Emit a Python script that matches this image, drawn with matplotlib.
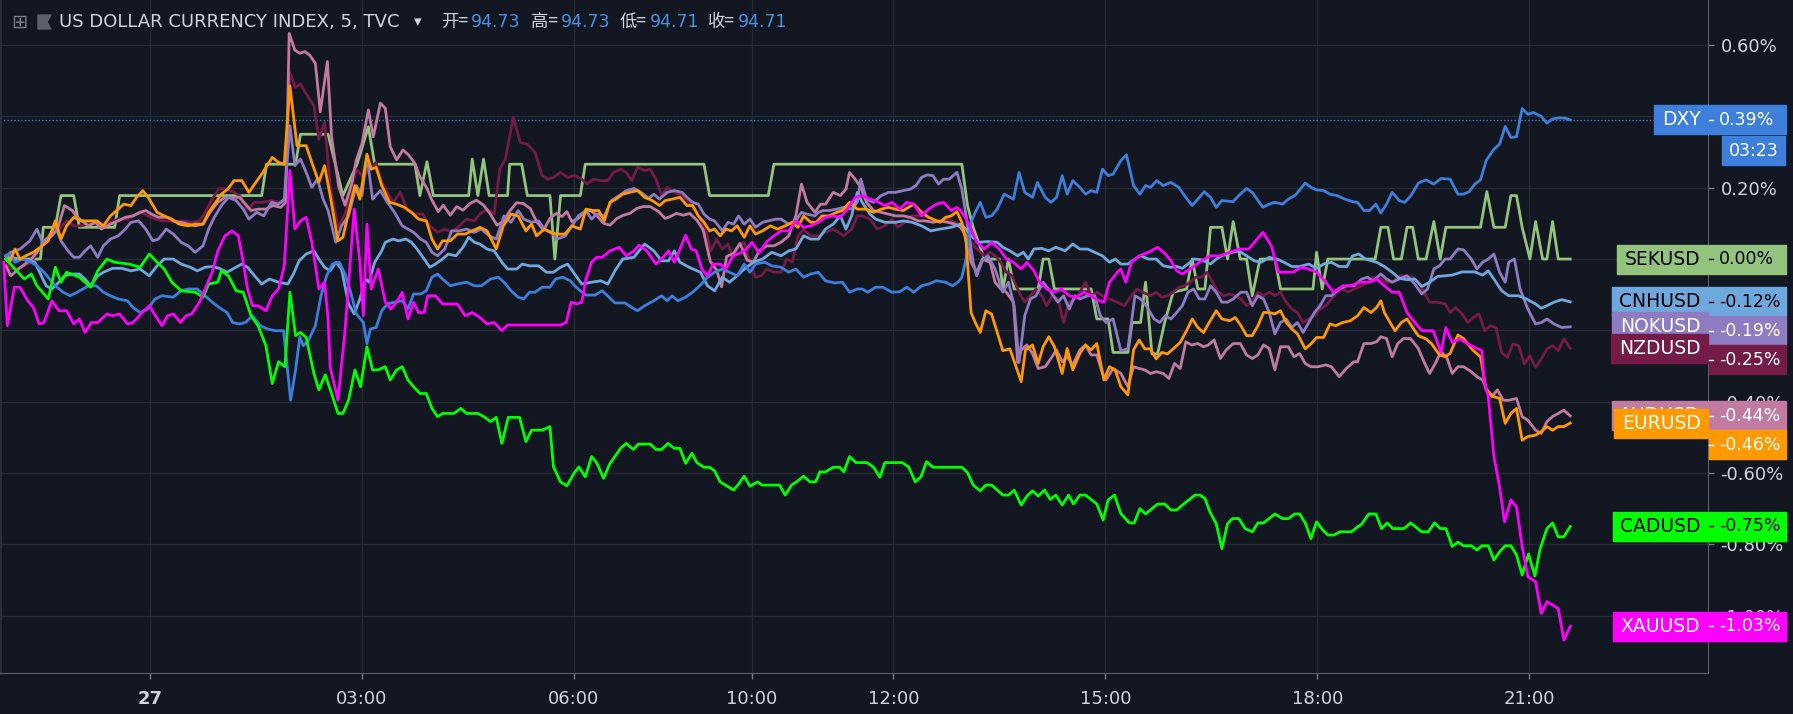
import matplotlib
matplotlib.use('Agg')
import numpy as np
import matplotlib.pyplot as plt
from matplotlib.patches import Rectangle, Polygon
from matplotlib.transforms import IdentityTransform
from matplotlib.ticker import FuncFormatter

# x = hours after 27th 00:00 on the (gap-compressed) session axis, y = % change
dxy = [(-2.04,0.009),(-1.99,0.014),(-1.91,-0.009),(-1.81,0.0),(-1.68,-0.009),(-1.60,-0.019),(-1.50,-0.037),(-1.42,-0.056),(-1.34,-0.075),(-1.23,-0.093),(-1.13,-0.103),(-1.03,-0.093),(-0.95,-0.084),(-0.87,-0.075),(-0.76,-0.075),(-0.66,-0.093),(-0.56,-0.103),(-0.45,-0.112),(-0.32,-0.117),(-0.24,-0.136),(-0.14,-0.150),(-0.03,-0.140),(0.07,-0.112),(0.17,-0.103),(0.33,-0.107),(0.44,-0.089),(0.54,-0.084),(0.67,-0.084),(0.78,-0.103),(0.88,-0.121),(0.98,-0.136),(1.09,-0.150),(1.17,-0.178),(1.27,-0.182),(1.35,-0.178),(1.45,-0.159),(1.56,-0.187),(1.66,-0.196),(1.77,-0.201),(1.89,-0.201),(1.99,-0.396),(2.06,-0.311),(2.12,-0.219),(2.17,-0.243),(2.24,-0.229),(2.34,-0.187),(2.42,-0.103),(2.50,-0.047),(2.58,-0.014),(2.68,-0.009),(2.76,-0.042),(2.84,-0.093),(2.92,-0.154),(3.02,-0.178),(3.07,-0.237),(3.12,-0.196),(3.20,-0.192),(3.28,-0.145),(3.36,-0.126),(3.46,-0.121),(3.57,-0.117),(3.65,-0.140),(3.73,-0.098),(3.83,-0.098),(3.91,-0.089),(3.99,-0.051),(4.07,-0.042),(4.14,-0.056),(4.25,-0.075),(4.35,-0.070),(4.48,-0.065),(4.59,-0.075),(4.69,-0.075),(4.82,-0.056),(4.93,-0.051),(5.01,-0.065),(5.11,-0.089),(5.21,-0.107),(5.29,-0.112),(5.37,-0.093),(5.45,-0.093),(5.55,-0.079),(5.66,-0.079),(5.74,-0.056),(5.84,-0.051),(5.95,-0.061),(6.01,-0.075),(6.09,-0.089),(6.17,-0.101),(6.30,-0.101),(6.40,-0.089),(6.51,-0.110),(6.58,-0.123),(6.72,-0.123),(6.82,-0.136),(6.90,-0.145),(7.00,-0.131),(7.13,-0.117),(7.24,-0.103),(7.32,-0.117),(7.39,-0.103),(7.47,-0.117),(7.58,-0.107),(7.68,-0.093),(7.79,-0.073),(7.89,-0.051),(7.99,-0.037),(8.10,-0.028),(8.20,-0.037),(8.31,-0.047),(8.41,-0.014),(8.49,-0.037),(8.57,-0.014),(8.70,-0.009),(8.80,-0.019),(8.93,-0.023),(9.04,-0.037),(9.14,-0.028),(9.25,-0.051),(9.35,-0.042),(9.46,-0.037),(9.56,-0.061),(9.69,-0.067),(9.80,-0.065),(9.90,-0.093),(10.01,-0.084),(10.08,-0.084),(10.16,-0.093),(10.27,-0.079),(10.37,-0.079),(10.50,-0.093),(10.61,-0.092),(10.71,-0.079),(10.81,-0.093),(10.92,-0.075),(11.02,-0.070),(11.13,-0.061),(11.26,-0.065),(11.36,-0.075),(11.44,-0.064),(11.49,-0.051),(11.55,0.0),(11.62,0.103),(11.68,0.131),(11.75,0.159),(11.83,0.117),(11.91,0.121),(11.99,0.140),(12.09,0.182),(12.22,0.168),(12.30,0.243),(12.38,0.187),(12.49,0.173),(12.56,0.215),(12.67,0.173),(12.75,0.159),(12.83,0.173),(12.91,0.234),(12.98,0.182),(13.06,0.220),(13.16,0.201),(13.24,0.182),(13.32,0.192),(13.40,0.187),(13.48,0.252),(13.56,0.234),(13.63,0.238),(13.74,0.276),(13.82,0.292),(13.92,0.206),(14.01,0.182),(14.09,0.206),(14.16,0.201),(14.25,0.220),(14.34,0.206),(14.45,0.215),(14.56,0.201),(14.64,0.178),(14.75,0.150),(14.83,0.168),(14.92,0.189),(15.01,0.173),(15.09,0.145),(15.17,0.164),(15.33,0.161),(15.41,0.178),(15.52,0.198),(15.60,0.187),(15.75,0.145),(15.84,0.154),(15.92,0.159),(16.03,0.154),(16.11,0.168),(16.21,0.179),(16.35,0.213),(16.43,0.201),(16.51,0.194),(16.61,0.192),(16.70,0.182),(16.80,0.178),(16.91,0.168),(17.02,0.161),(17.09,0.159),(17.18,0.136),(17.26,0.136),(17.35,0.154),(17.42,0.129),(17.50,0.154),(17.58,0.187),(17.68,0.164),(17.76,0.159),(17.85,0.179),(17.95,0.213),(18.06,0.222),(18.17,0.210),(18.27,0.226),(18.40,0.224),(18.51,0.182),(18.59,0.182),(18.67,0.189),(18.75,0.210),(18.83,0.222),(18.91,0.276),(19.02,0.308),(19.10,0.322),(19.18,0.372),(19.26,0.341),(19.34,0.343),(19.42,0.422),(19.50,0.406),(19.58,0.411),(19.69,0.400),(19.77,0.381),(19.85,0.393),(19.95,0.396),(20.03,0.395),(20.10,0.39)]

sek = [(-2.04,0.0),(-1.55,0.0),(-1.51,0.089),(-1.34,0.089),(-1.26,0.178),(-1.08,0.178),(-1.00,0.089),(-0.50,0.089),(-0.43,0.178),(1.58,0.178),(1.65,0.266),(2.06,0.266),(2.13,0.350),(2.52,0.350),(2.73,0.178),(2.93,0.266),(3.09,0.371),(3.18,0.266),(3.75,0.266),(3.82,0.178),(3.92,0.273),(4.01,0.178),(4.51,0.178),(4.56,0.280),(4.64,0.178),(4.72,0.280),(4.80,0.178),(5.06,0.178),(5.09,0.266),(5.26,0.266),(5.34,0.178),(5.66,0.178),(5.73,0.0),(5.81,0.178),(6.09,0.178),(6.16,0.266),(7.84,0.266),(7.92,0.178),(8.75,0.178),(8.83,0.266),(11.49,0.266),(11.57,0.150),(11.65,0.089),(11.81,0.0),(12.02,0.0),(12.07,-0.084),(12.15,0.0),(12.23,-0.084),(12.57,-0.084),(12.64,0.0),(12.72,0.0),(12.80,-0.084),(13.32,-0.084),(13.40,-0.168),(13.56,-0.168),(13.63,-0.262),(13.84,-0.262),(13.90,-0.178),(14.02,-0.178),(14.09,-0.065),(14.18,-0.266),(14.26,-0.266),(14.36,-0.178),(14.48,-0.093),(14.67,-0.084),(14.75,0.0),(14.83,-0.084),(14.93,-0.084),(15.01,0.089),(15.17,0.089),(15.25,0.0),(15.33,0.105),(15.43,0.0),(15.52,0.0),(15.60,-0.103),(15.71,0.0),(15.92,0.0),(16.00,-0.084),(16.46,-0.084),(16.51,0.019),(16.59,-0.084),(16.67,0.0),(17.34,0.0),(17.42,0.089),(17.52,0.089),(17.60,0.0),(17.71,0.0),(17.79,0.089),(17.87,0.089),(17.95,0.0),(18.06,0.0),(18.17,0.105),(18.26,0.0),(18.34,0.089),(18.83,0.089),(18.92,0.189),(19.02,0.089),(19.18,0.089),(19.26,0.178),(19.34,0.178),(19.42,0.089),(19.53,0.0),(19.61,0.105),(19.71,0.0),(19.77,0.0),(19.85,0.105),(19.93,0.0),(20.10,0.0)]

cnh = [(-2.04,0.009),(-1.86,0.0),(-1.76,0.0),(-1.63,-0.009),(-1.55,-0.042),(-1.47,-0.075),(-1.39,-0.084),(-1.29,-0.065),(-1.21,-0.047),(-1.10,-0.042),(-1.00,-0.042),(-0.92,-0.056),(-0.84,-0.075),(-0.74,-0.047),(-0.66,-0.037),(-0.53,-0.026),(-0.40,-0.026),(-0.27,-0.033),(-0.14,-0.028),(-0.01,-0.047),(0.10,-0.019),(0.20,0.0),(0.33,0.0),(0.44,-0.014),(0.57,-0.023),(0.67,-0.033),(0.78,-0.023),(0.88,-0.021),(0.98,-0.026),(1.09,-0.037),(1.19,-0.026),(1.30,-0.014),(1.38,-0.023),(1.48,-0.047),(1.58,-0.070),(1.69,-0.056),(1.82,-0.065),(1.95,-0.070),(2.03,-0.042),(2.11,-0.005),(2.21,0.014),(2.32,0.023),(2.39,0.0),(2.47,-0.023),(2.55,-0.033),(2.63,-0.009),(2.71,-0.028),(2.81,-0.126),(2.89,-0.154),(2.97,-0.112),(3.05,-0.056),(3.10,-0.065),(3.18,-0.009),(3.28,0.023),(3.33,0.047),(3.44,0.056),(3.52,0.051),(3.62,0.056),(3.70,0.047),(3.78,0.028),(3.88,0.0),(3.96,-0.023),(4.04,-0.014),(4.14,0.0),(4.22,0.014),(4.33,0.009),(4.43,0.033),(4.51,0.061),(4.59,0.047),(4.67,0.042),(4.77,0.028),(4.87,0.023),(4.98,-0.009),(5.06,-0.028),(5.19,-0.028),(5.27,-0.014),(5.37,-0.019),(5.50,-0.019),(5.61,-0.037),(5.71,-0.037),(5.81,-0.023),(5.91,-0.014),(6.01,-0.042),(6.11,-0.070),(6.25,-0.065),(6.38,-0.061),(6.48,-0.070),(6.58,-0.033),(6.69,0.0),(6.85,0.005),(7.00,0.042),(7.13,0.023),(7.24,-0.005),(7.34,-0.005),(7.42,0.023),(7.50,-0.009),(7.63,-0.023),(7.79,-0.037),(7.89,-0.075),(7.99,-0.089),(8.10,-0.051),(8.20,-0.065),(8.31,-0.047),(8.41,-0.028),(8.54,-0.009),(8.67,0.0),(8.80,0.019),(8.93,0.009),(9.04,0.023),(9.14,0.028),(9.25,0.065),(9.35,0.056),(9.46,0.056),(9.56,0.084),(9.67,0.098),(9.77,0.121),(9.85,0.084),(9.93,0.121),(10.01,0.187),(10.08,0.159),(10.19,0.126),(10.27,0.112),(10.40,0.103),(10.55,0.103),(10.66,0.107),(10.79,0.103),(10.92,0.093),(11.05,0.079),(11.18,0.084),(11.34,0.089),(11.47,0.098),(11.55,0.084),(11.62,0.065),(11.73,0.047),(11.86,0.049),(11.99,0.047),(12.07,0.033),(12.17,0.023),(12.28,0.009),(12.36,0.019),(12.43,0.0),(12.51,0.028),(12.62,0.030),(12.72,0.023),(12.82,0.033),(12.95,0.023),(13.06,0.042),(13.16,0.028),(13.27,0.028),(13.37,0.019),(13.48,0.009),(13.58,-0.009),(13.66,0.0),(13.74,-0.014),(13.84,-0.014),(13.94,0.0),(14.02,0.009),(14.13,0.0),(14.24,0.0),(14.34,-0.019),(14.45,-0.023),(14.53,-0.021),(14.61,-0.026),(14.69,-0.014),(14.77,0.0),(14.88,-0.002),(15.01,-0.014),(15.09,0.0),(15.17,0.009),(15.28,0.017),(15.41,0.023),(15.52,0.009),(15.63,-0.005),(15.73,-0.009),(15.84,0.005),(15.95,0.0),(16.05,-0.009),(16.16,-0.021),(16.27,-0.021),(16.40,-0.014),(16.51,-0.026),(16.61,-0.014),(16.72,-0.009),(16.83,-0.021),(16.94,-0.021),(17.02,0.009),(17.11,0.014),(17.20,0.0),(17.36,-0.009),(17.47,-0.021),(17.58,-0.037),(17.68,-0.054),(17.79,-0.058),(17.90,-0.056),(18.00,-0.077),(18.11,-0.065),(18.22,-0.049),(18.32,-0.047),(18.43,-0.045),(18.57,-0.036),(18.75,-0.036),(18.86,-0.045),(18.94,-0.033),(19.02,-0.056),(19.13,-0.089),(19.23,-0.103),(19.37,-0.103),(19.48,-0.112),(19.61,-0.126),(19.69,-0.138),(19.77,-0.131),(19.87,-0.121),(19.98,-0.114),(20.10,-0.12)]

nok = [(-2.04,0.009),(-1.97,0.019),(-1.84,0.028),(-1.70,0.051),(-1.60,0.084),(-1.52,0.047),(-1.44,0.061),(-1.34,0.093),(-1.26,0.051),(-1.16,0.023),(-1.08,0.005),(-1.00,0.005),(-0.92,0.023),(-0.84,0.037),(-0.74,0.005),(-0.66,0.037),(-0.56,0.056),(-0.45,0.065),(-0.35,0.084),(-0.27,0.103),(-0.16,0.107),(-0.06,0.084),(0.04,0.051),(0.12,0.056),(0.23,0.084),(0.33,0.070),(0.44,0.047),(0.54,0.037),(0.64,0.019),(0.75,0.037),(0.83,0.084),(0.91,0.117),(1.01,0.150),(1.11,0.173),(1.22,0.164),(1.32,0.140),(1.40,0.112),(1.51,0.131),(1.61,0.121),(1.72,0.159),(1.82,0.154),(1.90,0.168),(1.98,0.374),(2.05,0.262),(2.13,0.280),(2.21,0.243),(2.29,0.201),(2.37,0.224),(2.45,0.168),(2.52,0.136),(2.63,0.047),(2.71,0.093),(2.81,0.121),(2.92,0.206),(3.00,0.178),(3.07,0.290),(3.15,0.168),(3.26,0.192),(3.36,0.159),(3.46,0.131),(3.57,0.093),(3.65,0.084),(3.73,0.075),(3.83,0.056),(3.91,0.047),(3.99,0.019),(4.07,0.009),(4.17,0.028),(4.27,0.079),(4.38,0.079),(4.48,0.084),(4.59,0.075),(4.69,0.084),(4.80,0.065),(4.90,0.056),(5.01,0.121),(5.11,0.103),(5.21,0.136),(5.29,0.112),(5.40,0.103),(5.50,0.107),(5.58,0.084),(5.68,0.075),(5.76,0.056),(5.88,0.065),(5.99,0.098),(6.06,0.121),(6.17,0.136),(6.25,0.112),(6.32,0.126),(6.43,0.121),(6.53,0.164),(6.64,0.178),(6.74,0.192),(6.85,0.198),(6.95,0.187),(7.06,0.170),(7.13,0.182),(7.21,0.168),(7.32,0.187),(7.42,0.192),(7.53,0.187),(7.60,0.173),(7.68,0.159),(7.76,0.154),(7.84,0.126),(7.92,0.112),(7.99,0.107),(8.10,0.079),(8.18,0.103),(8.26,0.098),(8.33,0.121),(8.41,0.098),(8.49,0.112),(8.57,0.089),(8.67,0.103),(8.75,0.107),(8.86,0.112),(8.93,0.112),(9.04,0.098),(9.14,0.107),(9.22,0.131),(9.30,0.126),(9.41,0.121),(9.46,0.131),(9.53,0.136),(9.61,0.136),(9.72,0.140),(9.82,0.145),(9.93,0.140),(10.01,0.159),(10.06,0.224),(10.14,0.168),(10.24,0.159),(10.35,0.178),(10.45,0.187),(10.55,0.187),(10.66,0.192),(10.76,0.196),(10.84,0.206),(10.92,0.229),(11.00,0.236),(11.08,0.234),(11.16,0.210),(11.23,0.224),(11.31,0.224),(11.42,0.243),(11.49,0.196),(11.55,0.121),(11.65,-0.009),(11.70,-0.047),(11.78,-0.005),(11.86,0.009),(11.96,-0.028),(12.07,-0.093),(12.15,-0.065),(12.23,-0.131),(12.30,-0.290),(12.38,-0.159),(12.46,-0.112),(12.54,-0.103),(12.64,-0.065),(12.75,-0.093),(12.85,-0.121),(12.93,-0.103),(13.01,-0.140),(13.09,-0.103),(13.16,-0.112),(13.27,-0.103),(13.37,-0.103),(13.45,-0.159),(13.53,-0.178),(13.63,-0.168),(13.74,-0.257),(13.84,-0.252),(13.94,-0.103),(14.02,-0.112),(14.10,-0.131),(14.21,-0.168),(14.29,-0.178),(14.37,-0.159),(14.45,-0.168),(14.53,-0.150),(14.61,-0.131),(14.69,-0.093),(14.77,-0.084),(14.85,-0.112),(14.93,-0.112),(15.01,-0.075),(15.09,-0.093),(15.17,-0.121),(15.25,-0.121),(15.33,-0.112),(15.44,-0.093),(15.52,-0.093),(15.60,-0.131),(15.68,-0.103),(15.76,-0.112),(15.84,-0.150),(15.92,-0.210),(16.00,-0.178),(16.08,-0.168),(16.16,-0.192),(16.24,-0.178),(16.32,-0.206),(16.40,-0.178),(16.48,-0.150),(16.56,-0.131),(16.64,-0.103),(16.72,-0.103),(16.83,-0.084),(16.94,-0.075),(17.04,-0.075),(17.15,-0.056),(17.23,-0.051),(17.31,-0.061),(17.42,-0.042),(17.50,-0.056),(17.58,-0.065),(17.68,-0.056),(17.79,-0.047),(17.90,-0.070),(18.00,-0.098),(18.08,-0.084),(18.17,-0.028),(18.25,-0.019),(18.33,0.0),(18.40,0.0),(18.51,0.028),(18.59,0.026),(18.70,0.0),(18.78,-0.028),(18.86,-0.009),(18.94,0.0),(19.02,0.014),(19.10,-0.037),(19.18,-0.065),(19.23,-0.009),(19.31,0.0),(19.39,-0.084),(19.50,-0.140),(19.61,-0.182),(19.69,-0.178),(19.77,-0.168),(19.87,-0.182),(19.98,-0.192),(20.10,-0.19)]

nzd = [(-2.04,0.0),(-1.99,-0.028),(-1.89,-0.028),(-1.78,-0.019),(-1.68,-0.009),(-1.57,0.028),(-1.47,0.056),(-1.39,0.070),(-1.29,0.084),(-1.18,0.107),(-1.08,0.093),(-0.97,0.093),(-0.87,0.098),(-0.76,0.103),(-0.66,0.093),(-0.56,0.103),(-0.45,0.112),(-0.32,0.112),(-0.24,0.121),(-0.14,0.133),(-0.03,0.121),(0.07,0.112),(0.17,0.107),(0.28,0.107),(0.38,0.103),(0.49,0.107),(0.59,0.103),(0.70,0.107),(0.78,0.131),(0.88,0.168),(0.98,0.198),(1.09,0.196),(1.19,0.187),(1.27,0.178),(1.38,0.140),(1.48,0.159),(1.58,0.159),(1.72,0.164),(1.82,0.159),(1.90,0.159),(1.98,0.523),(2.06,0.481),(2.13,0.491),(2.21,0.463),(2.32,0.430),(2.39,0.336),(2.47,0.383),(2.55,0.206),(2.66,0.089),(2.76,0.126),(2.84,0.187),(2.92,0.252),(3.02,0.229),(3.10,0.252),(3.20,0.271),(3.28,0.215),(3.36,0.187),(3.44,0.159),(3.54,0.187),(3.65,0.136),(3.75,0.126),(3.86,0.126),(3.96,0.093),(4.07,0.075),(4.17,0.084),(4.27,0.075),(4.38,0.093),(4.48,0.112),(4.59,0.107),(4.67,0.126),(4.77,0.140),(4.87,0.126),(4.95,0.252),(5.03,0.280),(5.14,0.397),(5.24,0.327),(5.34,0.322),(5.45,0.299),(5.55,0.234),(5.63,0.224),(5.71,0.229),(5.81,0.243),(5.91,0.229),(6.01,0.234),(6.11,0.224),(6.19,0.210),(6.27,0.224),(6.38,0.220),(6.48,0.220),(6.56,0.243),(6.66,0.252),(6.74,0.243),(6.82,0.220),(6.90,0.257),(7.00,0.248),(7.08,0.252),(7.16,0.224),(7.24,0.178),(7.32,0.201),(7.42,0.187),(7.53,0.178),(7.63,0.159),(7.71,0.140),(7.79,0.112),(7.87,0.075),(7.94,0.023),(8.02,0.056),(8.10,0.028),(8.18,0.042),(8.25,0.005),(8.33,0.037),(8.41,0.047),(8.49,-0.009),(8.57,-0.051),(8.65,-0.047),(8.73,-0.028),(8.83,-0.037),(8.93,-0.037),(9.01,0.0),(9.09,-0.009),(9.17,0.065),(9.25,0.084),(9.35,0.065),(9.46,0.065),(9.56,0.075),(9.67,0.084),(9.74,0.075),(9.82,0.065),(9.93,0.084),(10.01,0.121),(10.08,0.121),(10.19,0.112),(10.29,0.084),(10.40,0.093),(10.50,0.112),(10.58,0.089),(10.68,0.103),(10.79,0.121),(10.87,0.121),(10.97,0.121),(11.08,0.112),(11.18,0.107),(11.29,0.112),(11.39,0.103),(11.47,0.098),(11.55,0.075),(11.62,0.047),(11.70,0.028),(11.81,0.009),(11.89,0.019),(11.96,0.009),(12.04,-0.009),(12.12,-0.037),(12.20,-0.047),(12.30,-0.093),(12.38,-0.121),(12.46,-0.103),(12.54,-0.084),(12.62,-0.103),(12.69,-0.131),(12.77,-0.103),(12.85,-0.112),(12.93,-0.178),(13.01,-0.121),(13.09,-0.112),(13.16,-0.093),(13.24,-0.065),(13.32,-0.103),(13.40,-0.093),(13.48,-0.103),(13.58,-0.112),(13.69,-0.121),(13.79,-0.131),(13.89,-0.103),(13.97,-0.084),(14.05,-0.093),(14.16,-0.103),(14.24,-0.093),(14.32,-0.107),(14.40,-0.103),(14.48,-0.093),(14.56,-0.079),(14.64,-0.075),(14.72,-0.065),(14.80,-0.051),(14.88,-0.051),(14.96,-0.037),(15.04,-0.065),(15.12,-0.093),(15.20,-0.103),(15.28,-0.098),(15.36,-0.103),(15.44,-0.112),(15.52,-0.131),(15.60,-0.117),(15.68,-0.093),(15.76,-0.103),(15.84,-0.093),(15.92,-0.103),(16.00,-0.093),(16.08,-0.121),(16.16,-0.140),(16.24,-0.150),(16.32,-0.178),(16.40,-0.168),(16.48,-0.159),(16.56,-0.140),(16.64,-0.131),(16.72,-0.112),(16.80,-0.093),(16.88,-0.084),(16.96,-0.093),(17.04,-0.084),(17.15,-0.075),(17.23,-0.065),(17.31,-0.051),(17.42,-0.056),(17.50,-0.065),(17.58,-0.065),(17.68,-0.047),(17.79,-0.047),(17.87,-0.051),(17.95,-0.065),(18.03,-0.093),(18.11,-0.121),(18.22,-0.121),(18.33,-0.126),(18.40,-0.150),(18.48,-0.136),(18.57,-0.154),(18.65,-0.178),(18.73,-0.164),(18.81,-0.154),(18.89,-0.201),(18.97,-0.187),(19.05,-0.192),(19.13,-0.262),(19.21,-0.276),(19.29,-0.238),(19.37,-0.243),(19.45,-0.294),(19.53,-0.271),(19.61,-0.304),(19.69,-0.280),(19.77,-0.252),(19.85,-0.243),(19.93,-0.257),(20.01,-0.224),(20.10,-0.25)]

aud = [(-2.04,-0.019),(-1.97,-0.047),(-1.86,-0.028),(-1.68,0.0),(-1.60,0.019),(-1.50,0.047),(-1.39,0.065),(-1.31,0.084),(-1.21,0.150),(-1.10,0.136),(-1.03,0.117),(-0.87,0.093),(-0.77,0.103),(-0.69,0.084),(-0.56,0.098),(-0.45,0.107),(-0.35,0.117),(-0.24,0.121),(-0.14,0.131),(-0.06,0.136),(0.02,0.126),(0.12,0.117),(0.25,0.117),(0.33,0.107),(0.44,0.103),(0.54,0.098),(0.64,0.093),(0.75,0.098),(0.85,0.131),(0.96,0.159),(1.06,0.173),(1.17,0.173),(1.27,0.173),(1.35,0.154),(1.43,0.136),(1.53,0.140),(1.64,0.140),(1.74,0.150),(1.85,0.145),(1.92,0.159),(1.97,0.633),(2.05,0.586),(2.12,0.577),(2.19,0.582),(2.26,0.572),(2.34,0.549),(2.41,0.413),(2.51,0.554),(2.57,0.343),(2.67,0.203),(2.76,0.151),(2.85,0.208),(2.92,0.278),(3.00,0.324),(3.09,0.418),(3.16,0.343),(3.26,0.437),(3.33,0.423),(3.40,0.315),(3.49,0.278),(3.58,0.306),(3.66,0.292),(3.75,0.268),(3.82,0.231),(3.92,0.198),(3.99,0.165),(4.08,0.133),(4.15,0.151),(4.25,0.123),(4.34,0.147),(4.43,0.137),(4.53,0.156),(4.62,0.165),(4.72,0.151),(4.81,0.128),(4.91,0.095),(5.00,0.105),(5.10,0.137),(5.19,0.158),(5.28,0.156),(5.38,0.142),(5.47,0.105),(5.57,0.081),(5.66,0.114),(5.75,0.128),(5.83,0.119),(5.90,0.133),(5.97,0.105),(6.06,0.114),(6.13,0.128),(6.23,0.137),(6.32,0.123),(6.42,0.100),(6.51,0.095),(6.61,0.114),(6.70,0.123),(6.79,0.128),(6.89,0.142),(6.98,0.147),(7.08,0.147),(7.20,0.133),(7.29,0.114),(7.36,0.119),(7.45,0.128),(7.55,0.123),(7.64,0.128),(7.74,0.109),(7.83,0.081),(7.93,-0.007),(8.02,-0.031),(8.09,-0.078),(8.16,0.007),(8.26,0.016),(8.35,0.044),(8.45,-0.003),(8.54,-0.009),(8.62,0.023),(8.73,0.037),(8.83,0.037),(8.93,0.047),(9.04,0.065),(9.14,0.121),(9.22,0.210),(9.30,0.159),(9.41,0.131),(9.49,0.154),(9.56,0.154),(9.67,0.187),(9.77,0.178),(9.85,0.196),(9.90,0.243),(9.98,0.224),(10.06,0.201),(10.14,0.159),(10.24,0.136),(10.35,0.131),(10.45,0.126),(10.55,0.121),(10.66,0.121),(10.76,0.117),(10.87,0.107),(10.97,0.107),(11.08,0.103),(11.18,0.107),(11.29,0.103),(11.39,0.098),(11.47,0.089),(11.55,0.065),(11.62,-0.009),(11.70,-0.037),(11.78,0.0),(11.89,-0.009),(11.96,-0.065),(12.04,-0.084),(12.12,-0.093),(12.22,-0.121),(12.28,-0.290),(12.33,-0.255),(12.41,-0.241),(12.49,-0.265),(12.57,-0.307),(12.67,-0.302),(12.75,-0.279),(12.83,-0.255),(12.91,-0.288),(12.98,-0.274),(13.06,-0.297),(13.16,-0.255),(13.24,-0.241),(13.32,-0.269),(13.40,-0.269),(13.48,-0.321),(13.53,-0.339),(13.63,-0.307),(13.74,-0.321),(13.84,-0.358),(13.92,-0.302),(14.00,-0.307),(14.08,-0.311),(14.16,-0.321),(14.24,-0.316),(14.34,-0.321),(14.42,-0.335),(14.50,-0.293),(14.58,-0.307),(14.66,-0.232),(14.74,-0.241),(14.83,-0.237),(14.91,-0.246),(14.98,-0.241),(15.06,-0.227),(15.15,-0.279),(15.23,-0.255),(15.33,-0.237),(15.43,-0.237),(15.52,-0.269),(15.60,-0.279),(15.68,-0.269),(15.76,-0.241),(15.84,-0.251),(15.92,-0.311),(16.00,-0.246),(16.11,-0.246),(16.19,-0.274),(16.27,-0.265),(16.35,-0.293),(16.43,-0.302),(16.53,-0.302),(16.64,-0.297),(16.72,-0.302),(16.83,-0.330),(16.93,-0.307),(17.04,-0.288),(17.09,-0.288),(17.18,-0.237),(17.28,-0.237),(17.36,-0.232),(17.42,-0.218),(17.50,-0.223),(17.58,-0.274),(17.66,-0.237),(17.74,-0.223),(17.84,-0.223),(17.95,-0.251),(18.03,-0.288),(18.11,-0.321),(18.19,-0.293),(18.27,-0.260),(18.35,-0.274),(18.43,-0.321),(18.51,-0.302),(18.59,-0.302),(18.70,-0.316),(18.78,-0.330),(18.86,-0.339),(18.91,-0.363),(18.99,-0.386),(19.07,-0.367),(19.15,-0.396),(19.23,-0.396),(19.34,-0.391),(19.42,-0.442),(19.50,-0.452),(19.61,-0.480),(19.69,-0.489),(19.77,-0.456),(19.85,-0.442),(19.93,-0.433),(20.01,-0.424),(20.10,-0.44)]

eur = [(-2.04,0.0),(-1.99,-0.009),(-1.91,0.028),(-1.84,0.0),(-1.76,0.009),(-1.65,0.019),(-1.55,0.033),(-1.44,0.051),(-1.34,0.107),(-1.26,0.056),(-1.18,0.093),(-1.08,0.117),(-0.97,0.107),(-0.87,0.107),(-0.75,0.107),(-0.66,0.093),(-0.56,0.121),(-0.45,0.140),(-0.37,0.154),(-0.27,0.150),(-0.19,0.173),(-0.10,0.192),(-0.01,0.168),(0.10,0.131),(0.20,0.121),(0.31,0.112),(0.41,0.098),(0.54,0.093),(0.64,0.098),(0.75,0.098),(0.83,0.131),(0.93,0.159),(1.01,0.182),(1.10,0.196),(1.19,0.220),(1.30,0.220),(1.40,0.187),(1.48,0.210),(1.58,0.238),(1.73,0.285),(1.82,0.271),(1.90,0.266),(1.98,0.486),(2.08,0.318),(2.21,0.318),(2.29,0.271),(2.39,0.215),(2.47,0.262),(2.55,0.178),(2.66,0.051),(2.73,0.061),(2.81,0.131),(2.90,0.206),(2.97,0.168),(3.07,0.294),(3.13,0.252),(3.20,0.257),(3.28,0.206),(3.39,0.159),(3.49,0.154),(3.60,0.145),(3.70,0.131),(3.80,0.112),(3.91,0.107),(3.99,0.056),(4.07,0.028),(4.14,0.051),(4.25,0.051),(4.35,0.070),(4.46,0.070),(4.56,0.079),(4.67,0.089),(4.77,0.079),(4.90,0.028),(5.00,0.093),(5.11,0.126),(5.21,0.121),(5.32,0.079),(5.40,0.098),(5.47,0.065),(5.58,0.084),(5.66,0.075),(5.76,0.070),(5.87,0.070),(5.97,0.093),(6.09,0.084),(6.17,0.140),(6.27,0.136),(6.35,0.136),(6.43,0.107),(6.51,0.159),(6.58,0.166),(6.69,0.182),(6.79,0.187),(6.90,0.192),(7.00,0.173),(7.11,0.164),(7.21,0.150),(7.29,0.164),(7.39,0.168),(7.50,0.173),(7.60,0.150),(7.68,0.150),(7.76,0.121),(7.84,0.103),(7.92,0.079),(7.99,0.084),(8.07,0.065),(8.15,0.084),(8.23,0.079),(8.31,0.093),(8.41,0.061),(8.49,0.093),(8.57,0.070),(8.67,0.079),(8.78,0.093),(8.88,0.084),(8.99,0.093),(9.09,0.103),(9.17,0.089),(9.25,0.121),(9.35,0.103),(9.43,0.103),(9.51,0.121),(9.61,0.121),(9.72,0.131),(9.80,0.136),(9.90,0.159),(10.01,0.140),(10.14,0.140),(10.24,0.131),(10.35,0.140),(10.45,0.145),(10.55,0.140),(10.66,0.136),(10.81,0.154),(10.92,0.131),(11.02,0.117),(11.18,0.103),(11.26,0.117),(11.34,0.121),(11.42,0.133),(11.49,0.103),(11.55,0.047),(11.62,-0.150),(11.68,-0.178),(11.75,-0.206),(11.83,-0.145),(11.91,-0.154),(11.99,-0.206),(12.07,-0.257),(12.17,-0.252),(12.33,-0.344),(12.39,-0.255),(12.49,-0.241),(12.57,-0.293),(12.64,-0.246),(12.72,-0.218),(12.80,-0.246),(12.91,-0.321),(12.98,-0.251),(13.06,-0.311),(13.16,-0.265),(13.24,-0.241),(13.32,-0.255),(13.40,-0.237),(13.50,-0.339),(13.58,-0.302),(13.66,-0.311),(13.74,-0.358),(13.84,-0.381),(13.92,-0.255),(14.00,-0.227),(14.08,-0.252),(14.16,-0.252),(14.24,-0.280),(14.32,-0.262),(14.40,-0.266),(14.48,-0.252),(14.58,-0.234),(14.67,-0.201),(14.75,-0.168),(14.83,-0.192),(14.91,-0.206),(14.99,-0.178),(15.09,-0.145),(15.17,-0.168),(15.28,-0.173),(15.36,-0.164),(15.44,-0.187),(15.52,-0.215),(15.60,-0.215),(15.68,-0.187),(15.76,-0.150),(15.84,-0.150),(15.92,-0.154),(16.00,-0.145),(16.08,-0.178),(16.16,-0.196),(16.24,-0.210),(16.35,-0.252),(16.43,-0.238),(16.51,-0.220),(16.61,-0.220),(16.70,-0.182),(16.78,-0.187),(16.88,-0.178),(16.99,-0.173),(17.09,-0.159),(17.18,-0.136),(17.28,-0.150),(17.36,-0.136),(17.42,-0.117),(17.47,-0.150),(17.55,-0.178),(17.62,-0.201),(17.71,-0.178),(17.79,-0.168),(17.87,-0.192),(17.95,-0.215),(18.06,-0.224),(18.14,-0.238),(18.25,-0.269),(18.33,-0.274),(18.40,-0.265),(18.51,-0.213),(18.59,-0.223),(18.72,-0.255),(18.83,-0.274),(18.91,-0.367),(19.02,-0.386),(19.10,-0.391),(19.18,-0.461),(19.26,-0.433),(19.34,-0.419),(19.42,-0.508),(19.50,-0.498),(19.61,-0.494),(19.69,-0.484),(19.77,-0.470),(19.85,-0.480),(19.93,-0.470),(20.01,-0.470),(20.10,-0.46)]

cad = [(-2.04,0.0),(-1.91,-0.028),(-1.78,-0.056),(-1.68,-0.042),(-1.60,-0.075),(-1.44,-0.112),(-1.34,-0.023),(-1.26,-0.065),(-1.18,-0.037),(-1.00,-0.051),(-0.84,-0.079),(-0.74,-0.033),(-0.61,0.0),(-0.50,-0.009),(-0.30,-0.014),(-0.14,-0.023),(-0.01,0.014),(0.10,-0.009),(0.20,-0.028),(0.31,-0.065),(0.44,-0.089),(0.64,-0.093),(0.75,-0.107),(0.83,-0.070),(0.96,-0.065),(1.01,-0.033),(1.11,-0.047),(1.22,-0.089),(1.32,-0.093),(1.43,-0.159),(1.53,-0.187),(1.64,-0.243),(1.73,-0.349),(1.82,-0.288),(1.91,-0.302),(1.98,-0.093),(2.06,-0.215),(2.13,-0.206),(2.21,-0.220),(2.32,-0.321),(2.39,-0.367),(2.48,-0.325),(2.57,-0.377),(2.66,-0.433),(2.73,-0.433),(2.81,-0.396),(2.90,-0.311),(2.98,-0.358),(3.07,-0.246),(3.15,-0.311),(3.23,-0.311),(3.33,-0.302),(3.40,-0.339),(3.49,-0.311),(3.57,-0.302),(3.65,-0.339),(3.73,-0.358),(3.82,-0.377),(3.91,-0.377),(3.99,-0.419),(4.07,-0.442),(4.14,-0.433),(4.30,-0.433),(4.40,-0.419),(4.48,-0.433),(4.64,-0.433),(4.74,-0.444),(4.82,-0.456),(4.90,-0.444),(4.98,-0.517),(5.07,-0.444),(5.23,-0.444),(5.32,-0.512),(5.40,-0.480),(5.55,-0.480),(5.66,-0.470),(5.71,-0.583),(5.81,-0.625),(5.90,-0.636),(6.00,-0.601),(6.07,-0.583),(6.16,-0.611),(6.25,-0.554),(6.32,-0.571),(6.42,-0.615),(6.51,-0.573),(6.58,-0.554),(6.66,-0.531),(6.74,-0.517),(6.84,-0.534),(6.91,-0.519),(7.08,-0.519),(7.16,-0.534),(7.24,-0.534),(7.33,-0.517),(7.42,-0.531),(7.50,-0.531),(7.58,-0.573),(7.67,-0.545),(7.74,-0.571),(7.84,-0.584),(7.92,-0.584),(7.99,-0.594),(8.07,-0.625),(8.26,-0.648),(8.33,-0.631),(8.41,-0.609),(8.49,-0.637),(8.60,-0.625),(8.66,-0.634),(8.91,-0.634),(8.99,-0.662),(9.08,-0.634),(9.17,-0.622),(9.25,-0.609),(9.34,-0.625),(9.42,-0.625),(9.48,-0.597),(9.56,-0.597),(9.67,-0.584),(9.76,-0.584),(9.82,-0.597),(9.90,-0.554),(9.99,-0.571),(10.15,-0.571),(10.24,-0.584),(10.33,-0.612),(10.40,-0.571),(10.65,-0.571),(10.74,-0.584),(10.83,-0.625),(10.91,-0.611),(10.99,-0.568),(11.08,-0.584),(11.49,-0.584),(11.57,-0.599),(11.65,-0.634),(11.75,-0.650),(11.83,-0.634),(11.91,-0.634),(12.07,-0.662),(12.15,-0.662),(12.23,-0.648),(12.33,-0.690),(12.41,-0.665),(12.49,-0.650),(12.57,-0.665),(12.66,-0.648),(12.74,-0.674),(12.82,-0.662),(12.91,-0.690),(13.00,-0.662),(13.07,-0.687),(13.16,-0.662),(13.24,-0.662),(13.40,-0.687),(13.49,-0.732),(13.56,-0.676),(13.65,-0.662),(13.74,-0.714),(13.86,-0.740),(13.93,-0.740),(14.01,-0.700),(14.09,-0.715),(14.18,-0.700),(14.26,-0.687),(14.36,-0.687),(14.45,-0.704),(14.53,-0.704),(14.61,-0.690),(14.70,-0.676),(14.79,-0.662),(14.86,-0.662),(14.93,-0.671),(15.00,-0.709),(15.09,-0.742),(15.17,-0.812),(15.25,-0.742),(15.32,-0.728),(15.41,-0.728),(15.50,-0.756),(15.60,-0.765),(15.68,-0.740),(15.76,-0.740),(15.92,-0.715),(16.03,-0.728),(16.11,-0.728),(16.20,-0.715),(16.27,-0.715),(16.35,-0.740),(16.43,-0.784),(16.51,-0.737),(16.59,-0.758),(16.67,-0.774),(16.76,-0.774),(16.84,-0.765),(17.00,-0.765),(17.15,-0.743),(17.25,-0.715),(17.35,-0.715),(17.43,-0.756),(17.51,-0.740),(17.59,-0.756),(17.75,-0.756),(17.84,-0.740),(18.00,-0.765),(18.09,-0.765),(18.18,-0.740),(18.26,-0.756),(18.34,-0.756),(18.43,-0.806),(18.51,-0.794),(18.59,-0.804),(18.70,-0.804),(18.78,-0.816),(18.85,-0.804),(18.94,-0.804),(19.02,-0.844),(19.10,-0.821),(19.18,-0.804),(19.26,-0.804),(19.34,-0.830),(19.42,-0.886),(19.51,-0.827),(19.60,-0.889),(19.67,-0.816),(19.77,-0.756),(19.85,-0.740),(19.93,-0.779),(20.01,-0.779),(20.10,-0.75)]

xau = [(-2.07,-0.009),(-2.02,-0.187),(-1.92,-0.079),(-1.84,-0.079),(-1.73,-0.117),(-1.65,-0.136),(-1.57,-0.182),(-1.50,-0.178),(-1.39,-0.117),(-1.29,-0.145),(-1.18,-0.145),(-1.08,-0.182),(-1.00,-0.168),(-0.92,-0.206),(-0.83,-0.178),(-0.74,-0.178),(-0.61,-0.154),(-0.53,-0.159),(-0.43,-0.154),(-0.32,-0.182),(-0.24,-0.178),(-0.11,-0.150),(-0.01,-0.131),(0.06,-0.154),(0.17,-0.187),(0.25,-0.159),(0.33,-0.154),(0.43,-0.178),(0.51,-0.159),(0.59,-0.154),(0.70,-0.121),(0.78,-0.084),(0.88,-0.037),(0.96,0.023),(1.06,0.065),(1.16,0.079),(1.25,0.065),(1.32,-0.009),(1.38,-0.084),(1.45,-0.131),(1.53,-0.131),(1.64,-0.145),(1.73,-0.103),(1.82,-0.084),(1.90,-0.019),(1.98,0.248),(2.05,0.084),(2.13,0.107),(2.21,0.117),(2.29,0.047),(2.39,-0.084),(2.47,-0.065),(2.52,-0.168),(2.55,-0.303),(2.66,-0.396),(2.76,-0.200),(2.89,0.140),(2.97,-0.009),(3.02,-0.159),(3.07,0.098),(3.13,-0.084),(3.23,-0.028),(3.33,-0.121),(3.41,-0.140),(3.49,-0.121),(3.57,-0.093),(3.65,-0.168),(3.73,-0.121),(3.80,-0.150),(3.88,-0.150),(3.93,-0.103),(4.04,-0.103),(4.14,-0.126),(4.35,-0.126),(4.46,-0.159),(4.56,-0.150),(4.67,-0.164),(4.77,-0.182),(4.87,-0.178),(4.98,-0.201),(5.06,-0.185),(5.81,-0.185),(5.89,-0.178),(5.96,-0.121),(6.04,-0.126),(6.11,-0.121),(6.17,-0.056),(6.25,-0.009),(6.32,0.005),(6.40,0.005),(6.51,0.023),(6.64,0.033),(6.74,0.009),(6.85,0.023),(6.92,0.039),(7.03,0.023),(7.16,-0.014),(7.24,0.0),(7.34,0.023),(7.42,-0.009),(7.50,0.028),(7.58,0.067),(7.66,0.028),(7.73,0.023),(7.81,-0.028),(7.89,-0.047),(7.97,-0.014),(8.07,-0.014),(8.15,-0.028),(8.25,0.009),(8.36,0.017),(8.44,0.028),(8.52,0.047),(8.62,0.017),(8.73,0.049),(8.83,0.065),(8.93,0.079),(9.04,0.079),(9.14,0.107),(9.25,0.089),(9.35,0.093),(9.46,0.103),(9.56,0.117),(9.67,0.121),(9.77,0.117),(9.87,0.140),(9.98,0.173),(10.08,0.178),(10.19,0.168),(10.29,0.161),(10.40,0.150),(10.50,0.159),(10.61,0.140),(10.71,0.159),(10.81,0.154),(10.92,0.121),(11.02,0.140),(11.13,0.154),(11.23,0.159),(11.34,0.136),(11.42,0.145),(11.47,0.136),(11.55,0.112),(11.62,0.084),(11.70,0.047),(11.81,0.028),(11.91,0.047),(12.02,0.028),(12.12,0.0),(12.22,-0.009),(12.33,-0.028),(12.41,-0.009),(12.51,-0.033),(12.59,-0.065),(12.69,-0.084),(12.80,-0.093),(12.90,-0.084),(13.01,-0.103),(13.11,-0.107),(13.22,-0.093),(13.32,-0.103),(13.43,-0.117),(13.50,-0.121),(13.58,-0.065),(13.69,-0.037),(13.74,-0.028),(13.81,-0.065),(13.89,-0.009),(14.00,0.009),(14.13,0.019),(14.26,0.033),(14.37,0.014),(14.45,-0.005),(14.53,-0.033),(14.61,-0.042),(14.72,-0.028),(14.88,-0.005),(15.01,0.009),(15.14,0.009),(15.28,0.019),(15.41,0.028),(15.55,0.028),(15.63,0.047),(15.75,0.075),(15.87,0.037),(15.97,-0.037),(16.08,-0.037),(16.19,-0.036),(16.29,-0.023),(16.40,-0.028),(16.51,-0.037),(16.64,-0.065),(16.75,-0.093),(16.88,-0.075),(16.99,-0.075),(17.12,-0.065),(17.26,-0.065),(17.36,-0.056),(17.47,-0.075),(17.58,-0.093),(17.68,-0.093),(17.79,-0.150),(17.90,-0.178),(18.00,-0.201),(18.16,-0.201),(18.27,-0.262),(18.34,-0.192),(18.43,-0.234),(18.54,-0.224),(18.65,-0.238),(18.75,-0.248),(18.85,-0.257),(18.88,-0.339),(18.94,-0.386),(19.02,-0.554),(19.10,-0.639),(19.17,-0.737),(19.26,-0.676),(19.34,-0.695),(19.42,-0.807),(19.50,-0.891),(19.61,-0.905),(19.69,-0.994),(19.77,-0.961),(19.93,-0.980),(20.01,-1.069),(20.10,-1.03)]

names = ['DXY', 'SEKUSD', 'CNHUSD', 'NOKUSD', 'NZDUSD', 'AUDUSD', 'EURUSD', 'CADUSD', 'XAUUSD']
series = [dxy, sek, cnh, nok, nzd, aud, eur, cad, xau]

tick_labels = ['27', '03:00', '06:00', '10:00', '12:00', '15:00', '18:00', '21:00']
tick_hours = [0, 3, 6, 8.52, 10.52, 13.52, 16.52, 19.52]
countdown = '03:23'
header = 'US DOLLAR CURRENCY INDEX, 5, TVC'
ohlc = [('开', '94.73'), ('高', '94.73'), ('低', '94.71'), ('收', '94.71')]

# ---- styling ----
BG = '#131722'
GRID = '#262a35'
TXT = '#d1d4dc'
colors = {'DXY': '#3d7fdb', 'SEKUSD': '#93c47d', 'CNHUSD': '#6fa8dc', 'NOKUSD': '#8e7cc3',
          'NZDUSD': '#741b47', 'AUDUSD': '#c27ba0', 'EURUSD': '#ff9900', 'CADUSD': '#00ff00',
          'XAUUSD': '#ff00ff'}
label_txt = {'DXY': 'white', 'SEKUSD': 'black', 'CNHUSD': 'black', 'NOKUSD': 'white',
             'NZDUSD': 'white', 'AUDUSD': 'white', 'EURUSD': 'white', 'CADUSD': 'black',
             'XAUUSD': 'white'}
draw_order = ['SEKUSD', 'NZDUSD', 'AUDUSD', 'NOKUSD', 'CNHUSD', 'DXY', 'EURUSD', 'CADUSD', 'XAUUSD']

W, H = 1793, 714
fig = plt.figure(figsize=(W / 100, H / 100), dpi=100, facecolor=BG)
ax = fig.add_axes([0, 41 / H, 1708 / W, 673 / H])
ax.set_facecolor(BG)
ax.set_xlim(-2.123, 22.05)
ax.set_ylim(-1.161, 0.7265)

data = dict(zip(names, series))
for n in draw_order:
    t, v = zip(*data[n])
    ax.plot(t, v, color=colors[n], lw=2.0, solid_joinstyle='round', zorder=3)

# dotted price line for DXY
ax.axhline(data['DXY'][-1][1], color=colors['DXY'], lw=1, ls=(0, (1, 1.5)), zorder=2)

ax.set_yticks(np.arange(-1.0, 0.61, 0.2))
ax.yaxis.set_major_formatter(FuncFormatter(lambda v, _: '0.00%' if abs(v) < 1e-9 else f'{v:.2f}%'))
ax.yaxis.tick_right()
ax.set_xticks(tick_hours)
ax.set_xticklabels(tick_labels)
ax.tick_params(axis='both', colors='#787b86', labelcolor=TXT, labelsize=13, length=4, width=1)
ax.tick_params(axis='x', pad=8)
ax.tick_params(axis='y', pad=5)
ax.get_xticklabels()[0].set_fontweight('bold')
ax.grid(True, color=GRID, lw=1)
ax.set_axisbelow(True)
ax.spines['top'].set_visible(False)
ax.spines['right'].set_color('#5d606b')
ax.spines['bottom'].set_color('#5d606b')
ax.spines['left'].set_color('#2a2e39')
ax.spines['left'].set_linewidth(3)

# ---- header legend ----
ident = IdentityTransform()
hy = H - 22
fig.text(19, hy, '⊞', transform=ident, color='#787b86', fontsize=14, ha='center', va='center')
fig.add_artist(Polygon([(38, hy + 7), (51, hy + 7), (47, hy), (51, hy - 7), (38, hy - 7)],
                       closed=True, transform=ident, color='#5d606b'))
fig.text(59, hy, header, transform=ident, color=TXT, fontsize=13, ha='left', va='center')
fig.text(418, hy, '▾', transform=ident, color=TXT, fontsize=11, ha='center', va='center')
for x0, (k, val) in zip([441, 531, 620, 708], ohlc):
    fig.text(x0, hy, k + '=', transform=ident, color=TXT, fontsize=12.5, ha='left', va='center',
             family=['Noto Sans CJK SC', 'DejaVu Sans'])
    fig.text(x0 + 30, hy, val, transform=ident, color='#4a90e2', fontsize=12.5, ha='left', va='center')

# ---- right-hand last value labels ----
fig.canvas.draw()
r = fig.canvas.get_renderer()
x_ax = ax.transAxes.transform((1, 0))[0]
bh = 29
vw = 77
prev_bottom = None
z = 5
for n in sorted(names, key=lambda k: -data[k][-1][1]):
    v = data[n][-1][1]
    yc = ax.transData.transform((0, v))[1]
    t = fig.text(0, yc, n, transform=ident, color=label_txt[n], fontsize=13.5, ha='center',
                 va='center', zorder=z + 1)
    w = t.get_window_extent(r).width + 15
    t.set_x(x_ax - w / 2)
    fig.add_artist(Rectangle((x_ax - w, yc - bh / 2), w, bh, transform=ident,
                             color=colors[n], zorder=z))
    yv = yc if prev_bottom is None else min(yc, prev_bottom - bh / 2)
    prev_bottom = yv - bh / 2
    fig.add_artist(Rectangle((x_ax + 1, yv - bh / 2), vw, bh, transform=ident,
                             color=colors[n], zorder=z))
    fig.text(x_ax + 11, yv, '0.00%' if abs(v) < 1e-9 else f'{v:.2f}%', transform=ident,
             color=label_txt[n], fontsize=12.5, ha='left', va='center', zorder=z + 1)
    fig.add_artist(plt.Line2D([x_ax + 1, x_ax + 5], [yv, yv], transform=ident,
                              color=label_txt[n], lw=1, zorder=z + 1))
    if n == 'DXY':
        fig.add_artist(Rectangle((x_ax + 14, yv - bh / 2 - 2 - bh), vw - 14, bh, transform=ident,
                                 color=colors[n], zorder=z))
        fig.text(x_ax + 14 + (vw - 14) / 2, yv - bh / 2 - 2 - bh / 2, countdown, transform=ident,
                 color='white', fontsize=12.5, ha='center', va='center', zorder=z + 1)
        prev_bottom = yv - bh / 2 - 2 - bh
    z += 2

fig.savefig('out.png', dpi=100, facecolor=BG)
